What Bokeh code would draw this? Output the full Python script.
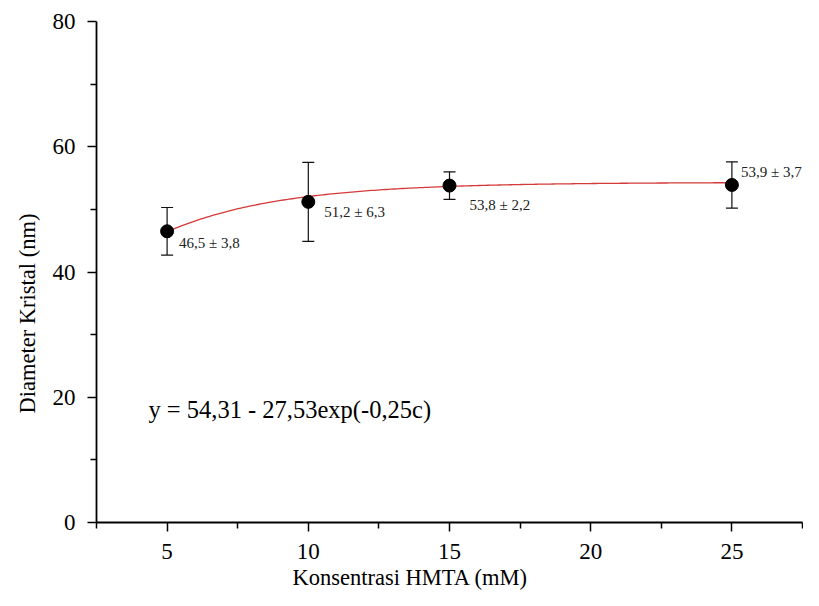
import numpy as np
from bokeh.plotting import figure
from bokeh.models import ColumnDataSource, Whisker, TeeHead, Label, FixedTicker, Range1d, Title
from bokeh.embed import file_html
from bokeh.resources import INLINE

# ---- data ----
konsentrasi = [5, 10, 15, 25]
diameter = [46.5, 51.2, 53.8, 53.9]
sd = [3.8, 6.3, 2.2, 3.7]
point_labels = ["46,5 \u00b1 3,8", "51,2 \u00b1 6,3", "53,8 \u00b1 2,2", "53,9 \u00b1 3,7"]
fit_a, fit_b, fit_k = 54.31, 27.53, 0.25
fit_c_start, fit_c_end = 5, 25
equation = "y = 54,31 - 27,53exp(-0,25c)"
x_title = "Konsentrasi HMTA (mM)"
y_title = "Diameter Kristal (nm)"
x_major = [5, 10, 15, 20, 25]
x_minor = [2.5, 7.5, 12.5, 17.5, 22.5, 27.5]
y_major = [0, 20, 40, 60, 80]
y_minor = [10, 30, 50, 70]

# label pixel offsets (styling)
label_dx = [12, 16, 20, 9]
label_dy = [-12, -10, -19, 13]

FONT = "Liberation Serif"

p = figure(width=803, height=590, output_backend="svg", toolbar_location=None,
           x_range=Range1d(2.5, 27.5), y_range=Range1d(0, 80),
           min_border_left=96, min_border_right=1, min_border_top=21, min_border_bottom=68)
p.outline_line_color = None
p.xgrid.visible = False
p.ygrid.visible = False
p.background_fill_color = "white"

for ax in (p.xaxis[0], p.yaxis[0]):
    ax.axis_line_width = 1.8
    ax.axis_line_color = "black"
    ax.major_tick_line_color = "black"
    ax.minor_tick_line_color = "black"
    ax.major_tick_line_width = 1.5
    ax.minor_tick_line_width = 1.5
    ax.major_tick_in = 0
    ax.major_tick_out = 9
    ax.minor_tick_in = 0
    ax.minor_tick_out = 6
    ax.major_label_text_font = FONT
    ax.major_label_text_font_size = "23px"
    ax.major_label_text_color = "black"

p.xaxis.ticker = FixedTicker(ticks=x_major, minor_ticks=x_minor)
p.yaxis.ticker = FixedTicker(ticks=y_major, minor_ticks=y_minor)
p.xaxis.major_label_standoff = 12
p.yaxis.major_label_standoff = 12

# axis titles as side-panel titles (off-centre like the reference)
p.add_layout(Title(text=x_title, align="left", offset=196, standoff=2,
                   text_font=FONT, text_font_size="22.5px", text_font_style="normal",
                   text_color="black"), "below")
p.add_layout(Title(text=y_title, align="left", offset=109, standoff=20,
                   text_font=FONT, text_font_size="22.5px", text_font_style="normal",
                   text_color="black"), "left")

# fit curve from the printed equation
c = np.linspace(fit_c_start, fit_c_end, 200)
yfit = fit_a - fit_b * np.exp(-fit_k * c)
p.line(c, yfit, line_color="#d43a3a", line_width=1.3)

src = ColumnDataSource(dict(x=konsentrasi, y=diameter,
                            lower=[d - s for d, s in zip(diameter, sd)],
                            upper=[d + s for d, s in zip(diameter, sd)]))
w = Whisker(source=src, base="x", lower="lower", upper="upper",
            line_color="#111111", line_width=1.2,
            upper_head=TeeHead(size=12, line_color="#111111", line_width=1.2),
            lower_head=TeeHead(size=12, line_color="#111111", line_width=1.2))
p.add_layout(w)
p.scatter("x", "y", source=src, size=13, fill_color="black", line_color="black")

for xi, yi, txt, dx, dy in zip(konsentrasi, diameter, point_labels, label_dx, label_dy):
    p.add_layout(Label(x=xi, y=yi, text=txt, x_offset=dx, y_offset=dy,
                       text_font=FONT, text_font_size="15px", text_color="#222222",
                       text_baseline="middle", text_align="left"))

p.add_layout(Label(x=4.34, y=18.0, text=equation, text_font=FONT,
                   text_font_size="24.5px", text_color="black",
                   text_baseline="middle", text_align="left"))

open("out.html", "w").write(file_html(p, INLINE))
